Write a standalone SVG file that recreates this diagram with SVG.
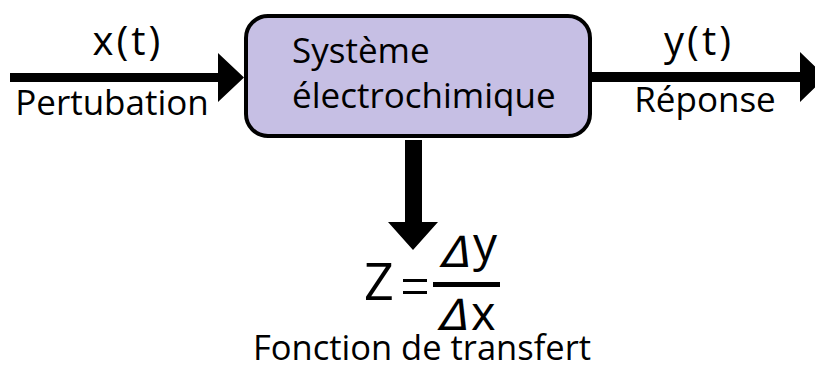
<svg xmlns="http://www.w3.org/2000/svg" width="815" height="369" viewBox="0 0 815 369">
<style>
  .t { font-family: "Open Sans", "Noto Sans", sans-serif; fill: #000; }
  .big { font-size: 40px; letter-spacing: 3px; }
  .lbl { font-size: 35px; }
  .delta { font-family: "DejaVu Sans", sans-serif; font-size: 43px; fill: #000; }
  .arr { fill: #000; }
</style>
<rect width="815" height="369" fill="#fff"/>
<g id="connectors">
  <path class="arr" d="M10 73 H218 V53 L244 77.5 L218 102 V82 H10 Z"/>
  <path class="arr" d="M591 72 H800 V52 L826 77 L800 102 V82 H591 Z"/>
  <path class="arr" d="M405 140 H422 V222 H438 L413 250 L388 222 H405 Z"/>
</g>
<g id="node-systeme">
  <rect x="246" y="16" width="344" height="120" rx="22" ry="22" fill="#c6bfe4" stroke="#000" stroke-width="4"/>
  <text class="t lbl" x="292" y="63">Système</text>
  <text class="t lbl" x="292" y="108">électrochimique</text>
</g>
<g id="label-input">
  <text class="t big" x="128" y="55" text-anchor="middle">x(t)</text>
  <text class="t lbl" x="112" y="115" text-anchor="middle">Pertubation</text>
</g>
<g id="label-output">
  <text class="t big" x="699" y="55" text-anchor="middle">y(t)</text>
  <text class="t lbl" x="705" y="112" text-anchor="middle">Réponse</text>
</g>
<g id="formula">
  <text class="t" x="364" y="300" font-size="52">Z</text>
  <rect x="403" y="279" width="24" height="3" fill="#000"/>
  <rect x="403" y="291" width="24" height="3" fill="#000"/>
  <rect x="433" y="282" width="67" height="5" fill="#000"/>
  <text class="delta" transform="translate(439 267) skewX(-15)">Δ</text>
  <text class="t" x="473" y="261" font-size="48">y</text>
  <text class="delta" transform="translate(437 330) skewX(-15)">Δ</text>
  <text class="t" x="471" y="330" font-size="47">x</text>
  <text class="t" x="422" y="360" font-size="34.5" text-anchor="middle">Fonction de transfert</text>
</g>
</svg>
